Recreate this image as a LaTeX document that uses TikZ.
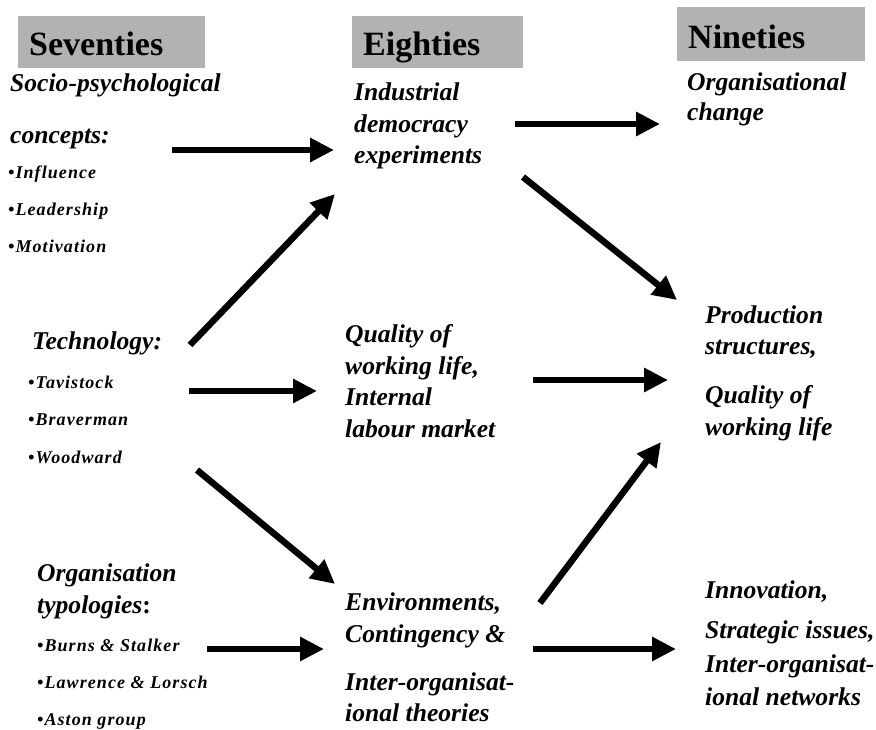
\documentclass[tikz,border=0pt]{standalone}
\usepackage{fontspec}
\setmainfont{Liberation Serif}
\newfontfamily\spacedfont[LetterSpace=6]{Liberation Serif}
\usetikzlibrary{arrows.meta}
\definecolor{hdrgray}{RGB}{178,178,178}
\tikzset{
  hdrbox/.style={fill=hdrgray, draw=none},
  hdr/.style={anchor=base west, inner sep=0pt, font=\fontsize{34}{34}\selectfont\bfseries},
  big/.style={anchor=base west, inner sep=0pt, font=\fontsize{25.6}{25.6}\selectfont\bfseries\itshape},
  small/.style={anchor=base west, inner sep=0pt, font=\fontsize{18}{18}\selectfont\spacedfont\bfseries\itshape},
  flow/.style={line width=6.5pt, -{Triangle[length=24pt,width=23pt]}}
}
\begin{document}
\begin{tikzpicture}[x=1pt,y=-1pt]
\useasboundingbox (0,0) rectangle (876,729);
% headers
\fill[hdrbox] (18,16) rectangle (205,68);
\fill[hdrbox] (352,16) rectangle (523,68);
\fill[hdrbox] (677,7) rectangle (865,61);
\node[hdr] (h70) at (29,55) {Seventies};
\node[hdr] (h80) at (363,55) {Eighties};
\node[hdr] (h90) at (688,48) {Nineties};
% seventies
\node[big] (soc1) at (10,91) {Socio-psychological};
\node[big] (soc2) at (10,143) {concepts:};
\node[small] (soca) at (8,178) {\textbullet Influence};
\node[small] (socb) at (8,215) {\textbullet Leadership};
\node[small] (socc) at (8,252) {\textbullet Motivation};
\node[big] (tec1) at (32,349) {Technology:};
\node[small] (teca) at (28,388) {\textbullet Tavistock};
\node[small] (tecb) at (28,425) {\textbullet Braverman};
\node[small] (tecc) at (28,463) {\textbullet Woodward};
\node[big] (org1) at (37,581) {Organisation};
\node[big] (org2) at (37,613) {typologies{\upshape :}};
\node[small] (orga) at (37,651) {\textbullet Burns \& Stalker};
\node[small] (orgb) at (37,688) {\textbullet Lawrence \& Lorsch};
\node[small] (orgc) at (37,725) {\textbullet Aston group};
% eighties
\node[big] (ind1) at (354,100) {Industrial};
\node[big] (ind2) at (354,132) {democracy};
\node[big] (ind3) at (354,163) {experiments};
\node[big] (qwl1) at (345,342) {Quality of};
\node[big] (qwl2) at (345,374) {working life,};
\node[big] (qwl3) at (345,405) {Internal};
\node[big] (qwl4) at (345,437) {labour market};
\node[big] (env1) at (345,610) {Environments,};
\node[big] (env2) at (345,642) {Contingency \&};
\node[big] (env3) at (345,690) {Inter-organisat-};
\node[big] (env4) at (345,721) {ional theories};
% nineties
\node[big] (oc1) at (687,90) {Organisational};
\node[big] (oc2) at (687,120) {change};
\node[big] (ps1) at (705,323) {Production};
\node[big] (ps2) at (705,354) {structures,};
\node[big] (ps3) at (705,403) {Quality of};
\node[big] (ps4) at (705,435) {working life};
\node[big] (inn1) at (705,598) {Innovation,};
\node[big] (inn2) at (705,638) {Strategic issues,};
\node[big] (inn3) at (705,672) {Inter-organisat-};
\node[big] (inn4) at (705,705) {ional networks};
% arrow end points
\coordinate (a1s) at (172,150); \coordinate (a1e) at (334,150);
\coordinate (a2s) at (515,124); \coordinate (a2e) at (660,124);
\coordinate (a3s) at (190,345); \coordinate (a3e) at (335,194);
\coordinate (a4s) at (189,391); \coordinate (a4e) at (317,391);
\coordinate (a5s) at (523,177); \coordinate (a5e) at (677,300);
\coordinate (a6s) at (533,380); \coordinate (a6e) at (668,380);
\coordinate (a7s) at (197,470); \coordinate (a7e) at (335,584);
\coordinate (a8s) at (207,649); \coordinate (a8e) at (324,649);
\coordinate (a9s) at (540,603); \coordinate (a9e) at (661,442);
\coordinate (a10s) at (533,649); \coordinate (a10e) at (676,649);
\draw[flow] (a1s) -- (a1e);
\draw[flow] (a2s) -- (a2e);
\draw[flow] (a3s) -- (a3e);
\draw[flow] (a4s) -- (a4e);
\draw[flow] (a5s) -- (a5e);
\draw[flow] (a6s) -- (a6e);
\draw[flow] (a7s) -- (a7e);
\draw[flow] (a8s) -- (a8e);
\draw[flow] (a9s) -- (a9e);
\draw[flow] (a10s) -- (a10e);
\end{tikzpicture}
\end{document}
